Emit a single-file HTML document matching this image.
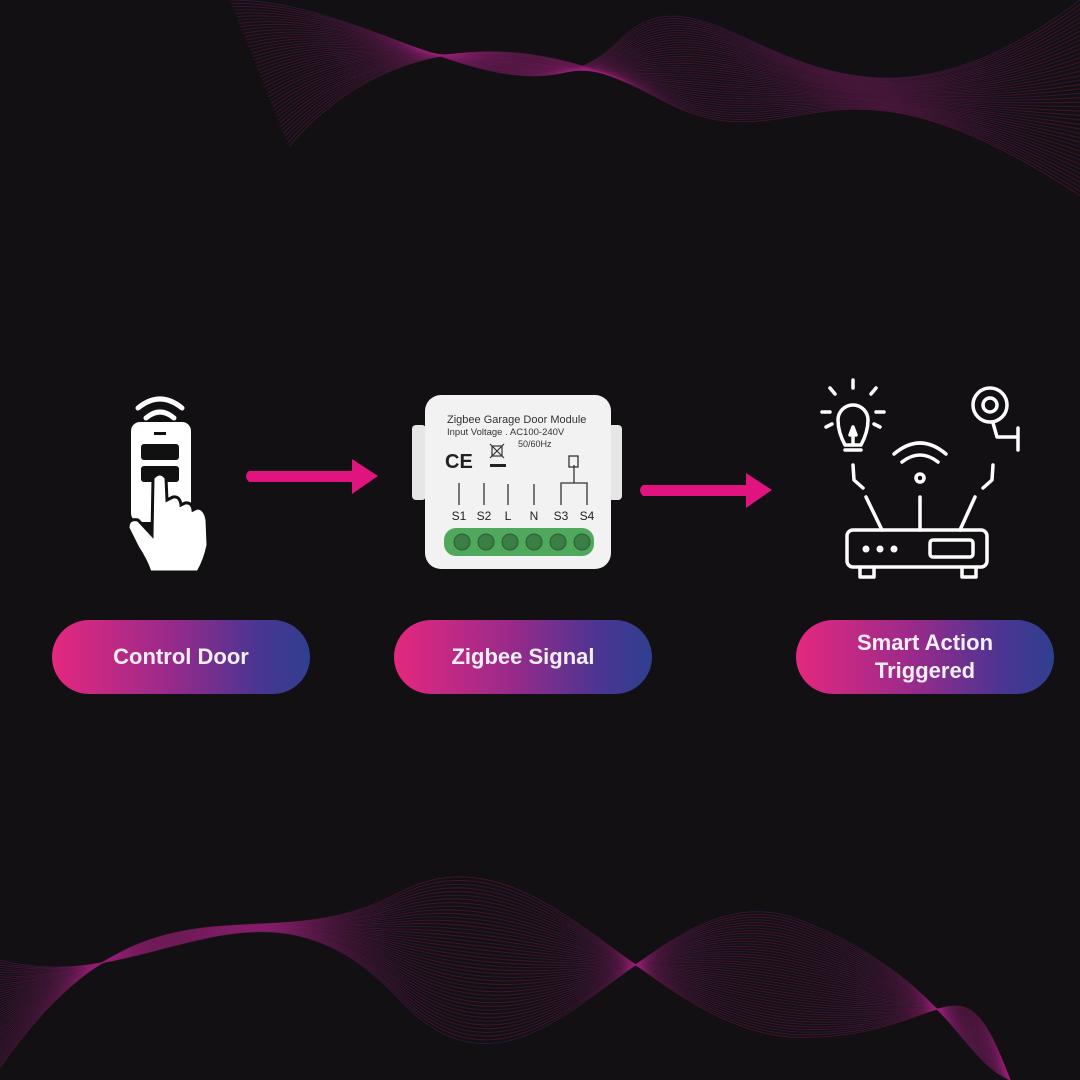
<!DOCTYPE html>
<html><head><meta charset="utf-8"><style>
html,body{margin:0;padding:0;background:#111012;}
#c{position:relative;width:1080px;height:1080px;overflow:hidden;background:#121013;font-family:"Liberation Sans",sans-serif;}
svg{position:absolute;left:0;top:0;}
.pill{position:absolute;height:74px;border-radius:37px;background:linear-gradient(90deg,#e4287f 0%,#9a2a8a 45%,#4a3592 80%,#2f3f90 100%);color:#f4eef6;font-weight:bold;font-size:22px;display:flex;align-items:center;justify-content:center;text-align:center;line-height:28px;}
</style></head><body><div id="c">
<svg width="1080" height="1080" id="waves"></svg>
<svg width="1080" height="1080">
 <path d="M138 408 Q160 390 182 408" stroke="#fff" stroke-width="5" fill="none" stroke-linecap="round"/>
 <path d="M146 418 Q160 406 174 418" stroke="#fff" stroke-width="5" fill="none" stroke-linecap="round"/>
 <rect x="131" y="422" width="60" height="100" rx="9" fill="#fff"/>
 <rect x="154" y="432" width="12" height="3" fill="#111"/>
 <rect x="141" y="444" width="38" height="16" rx="3" fill="#111"/>
 <rect x="141" y="466" width="38" height="16" rx="3" fill="#111"/>
 <path d="M153 478 Q160 470 166 478 L167 500 L173 497 Q180 496 181 505 L185 503 Q192 502 193 510 L197 508 Q205 508 207 520 L208 545 Q205 560 198 572 L150 572 Q146 560 138 548 L128 528 Q128 518 138 520 L152 535 Z" fill="#fff" stroke="#111" stroke-width="3"/>
 <path d="M249 471 L352 471 L352 459 L378 476 L352 494 L352 482 L249 482 Q243 476 249 471Z" fill="#e0137f"/>
 <path d="M643 485 L746 485 L746 473 L772 490 L746 508 L746 496 L643 496 Q637 490 643 485Z" fill="#e0137f"/>
 <rect x="412" y="425" width="14" height="75" rx="4" fill="#e6e6e6"/>
 <rect x="608" y="425" width="14" height="75" rx="4" fill="#e6e6e6"/>
 <rect x="425" y="395" width="186" height="174" rx="16" fill="#f2f2f2"/>
 <text x="447" y="423" font-size="11" fill="#333">Zigbee Garage Door Module</text>
 <text x="447" y="435" font-size="9.5" fill="#333">Input Voltage . AC100-240V</text>
 <text x="518" y="447" font-size="9" fill="#333">50/60Hz</text>
 <text x="445" y="468" font-size="20" font-weight="bold" fill="#222">CE</text>
 <g stroke="#333" stroke-width="1.2" fill="none"><path d="M490 444 L504 458 M504 444 L490 458"/><rect x="492" y="446" width="10" height="10"/></g>
 <rect x="490" y="464" width="16" height="3" fill="#222"/>
 <g stroke="#333" stroke-width="1.3" fill="none">
  <line x1="459" y1="483" x2="459" y2="505"/><line x1="484" y1="483" x2="484" y2="505"/>
  <line x1="508" y1="484" x2="508" y2="505"/><line x1="534" y1="484" x2="534" y2="505"/>
  <path d="M561 505 L561 483 L587 483 L587 505 M574 483 L574 465"/>
  <rect x="569" y="456" width="9" height="11"/>
 </g>
 <g font-size="12" fill="#222" text-anchor="middle"><text x="459" y="520">S1</text><text x="484" y="520">S2</text><text x="508" y="520">L</text><text x="534" y="520">N</text><text x="561" y="520">S3</text><text x="587" y="520">S4</text></g>
 <rect x="444" y="528" width="150" height="28" rx="12" fill="#4fa85c"/>
 <g fill="#3a7d45" stroke="#2b5e33"><circle cx="462" cy="542" r="8"/><circle cx="486" cy="542" r="8"/><circle cx="510" cy="542" r="8"/><circle cx="534" cy="542" r="8"/><circle cx="558" cy="542" r="8"/><circle cx="582" cy="542" r="8"/></g>
 <g stroke="#fff" stroke-width="3.5" fill="none" stroke-linecap="round" stroke-linejoin="round">
  <path d="M845 445 Q838 432 838 420 A15 15 0 1 1 868 420 Q868 432 861 445 Z"/>
  <line x1="845" y1="450" x2="861" y2="450"/>
  <path d="M850 435 L853 427 L856 435 M853 427 L853 445"/>
  <path d="M853 388 L853 380 M835 394 L830 388 M871 394 L876 388 M822 412 L830 412 M876 412 L884 412 M826 427 L832 424 M880 427 L874 424"/>
  <circle cx="990" cy="405" r="17"/><circle cx="990" cy="405" r="7"/>
  <path d="M993 423 L997 437 L1016 437 M1018 428 L1018 450"/>
  <path d="M853 465 L854 480 L863 488 M993 465 L992 480 L983 488"/>
  <path d="M894 454 Q920 432 946 454 M902 462 Q920 448 938 462"/>
  <circle cx="920" cy="478" r="4"/>
  <rect x="847" y="530" width="140" height="37" rx="6"/>
  <path d="M866 497 L882 530 M920 497 L920 530 M975 497 L960 530"/>
  <rect x="930" y="540" width="43" height="17" rx="3"/>
  <path d="M860 567 L860 577 L874 577 L874 567 M962 567 L962 577 L976 577 L976 567"/>
 </g>
 <g fill="#fff"><circle cx="866" cy="549" r="3.5"/><circle cx="880" cy="549" r="3.5"/><circle cx="894" cy="549" r="3.5"/></g>
</svg>
<div class="pill" style="left:52px;top:620px;width:258px;">Control Door</div>
<div class="pill" style="left:394px;top:620px;width:258px;">Zigbee Signal</div>
<div class="pill" style="left:796px;top:620px;width:258px;">Smart Action<br>Triggered</div>
</div>
<script>
var s=document.getElementById('waves'),h='';
for(var i=0;i<45;i++){var t=i/45;var c=(i%3==0)?'#6a2a90':'#b01f6e';
h+='<path d="M'+(230+t*60)+' '+(t*150)+' C '+(380)+' '+(t*40)+', '+(520)+' '+(140-t*120)+', '+(620+t*40)+' '+(40+t*60)+' S '+(820)+' '+(200-t*180)+', 1080 '+(t*200)+'" stroke="'+c+'" stroke-opacity="0.3" fill="none" stroke-width="1"/>';
h+='<path d="M0 '+(960+t*110)+' C 150 '+(1000-t*150)+', 260 '+(850+t*120)+', 400 '+(1000-t*110)+' S 650 '+(860+t*180)+', 800 '+(920+t*120)+' S 960 '+(1060-t*120)+', 1010 1080" stroke="'+c+'" stroke-opacity="0.3" fill="none" stroke-width="1"/>';}
s.innerHTML=h;
</script>
</body></html>
